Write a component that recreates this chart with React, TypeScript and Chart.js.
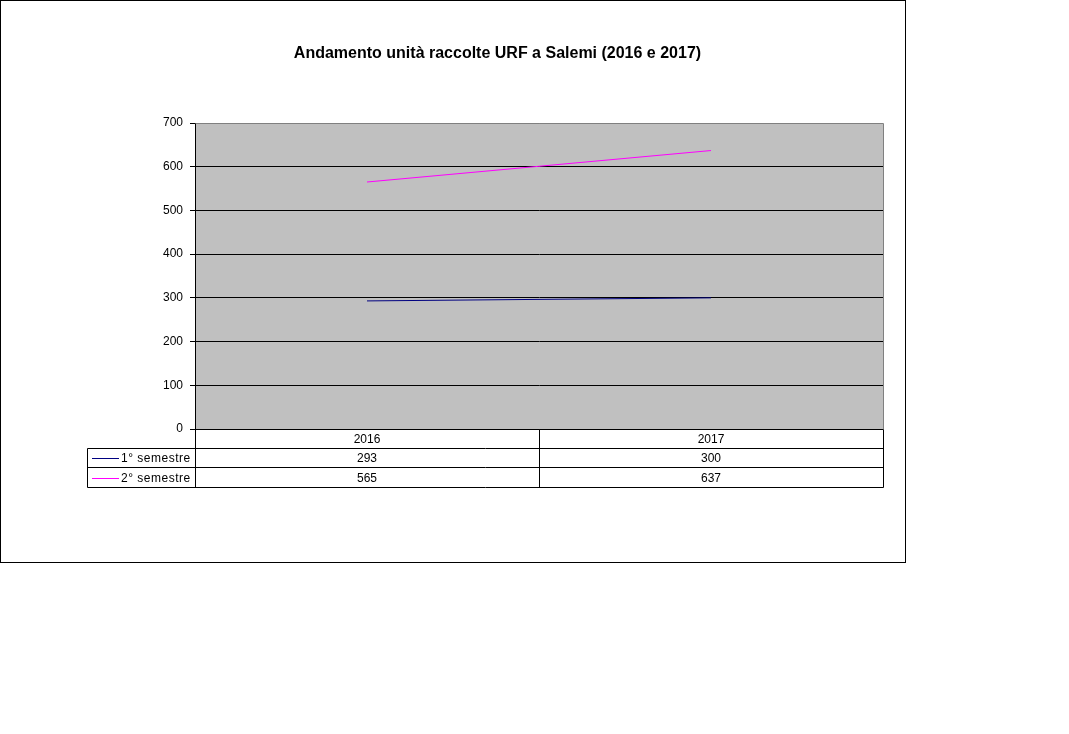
import React, { useEffect, useRef } from "react";
import { Chart, registerables } from "chart.js";

Chart.register(...registerables);

const categories = ["2016", "2017"];
const seriesNames = ["1° semestre", "2° semestre"];
const sem1 = [293, 300];
const sem2 = [565, 637];
const seriesColors = ["#000080", "#FF00FF"];
const titleText = "Andamento unità raccolte URF a Salemi (2016 e 2017)";
const yMin = 0;
const yMax = 700;
const yStep = 100;

const FONT = "'Liberation Sans', Arial, sans-serif";

const framePlugin = {
  id: "frame",
  beforeDraw(chart: any) {
    const { ctx, chartArea } = chart;
    const { left, top, right, bottom } = chartArea;
    ctx.save();
    ctx.fillStyle = "#ffffff";
    ctx.fillRect(0, 0, chart.width, chart.height);
    ctx.fillStyle = "#C0C0C0";
    ctx.fillRect(left, top, right - left, bottom - top);
    ctx.restore();
  },
  afterDraw(chart: any) {
    const { ctx, chartArea } = chart;
    const { left, top, right, bottom } = chartArea;
    ctx.save();
    // outer border
    ctx.strokeStyle = "#000";
    ctx.lineWidth = 1;
    ctx.strokeRect(0.5, 0.5, 905, 562);
    // plot top/right border
    ctx.strokeStyle = "#808080";
    ctx.beginPath();
    ctx.moveTo(Math.round(left) + 0.5, Math.round(top) + 0.5);
    ctx.lineTo(Math.round(right) + 0.5, Math.round(top) + 0.5);
    ctx.lineTo(Math.round(right) + 0.5, Math.round(bottom));
    ctx.stroke();
    // title
    ctx.fillStyle = "#000";
    ctx.font = `bold 16px ${FONT}`;
    ctx.textAlign = "center";
    ctx.textBaseline = "middle";
    ctx.fillText(titleText, 497.5, 54);

    // data table
    const xs = chart.scales.x;
    const rowH = [19, 19, 20];
    const y0 = Math.round(bottom) + 0.5;
    const y1 = y0 + rowH[0];
    const y2 = y1 + rowH[1];
    const y3 = y2 + rowH[2];
    const L = Math.round(left) + 0.5;
    const R = Math.round(right) + 0.5;
    const legL = 87.5;
    const n = categories.length;
    const colW = (right - left) / n;
    ctx.strokeStyle = "#000";
    ctx.beginPath();
    ctx.moveTo(L, y0); ctx.lineTo(R, y0);
    ctx.moveTo(legL, y1); ctx.lineTo(R, y1);
    ctx.moveTo(legL, y2); ctx.lineTo(R, y2);
    ctx.moveTo(legL, y3); ctx.lineTo(R, y3);
    ctx.moveTo(L, y0); ctx.lineTo(L, y3);
    ctx.moveTo(R, y0); ctx.lineTo(R, y3);
    ctx.moveTo(legL, y1); ctx.lineTo(legL, y3);
    for (let i = 1; i < n; i++) {
      const x = Math.round(left + colW * i) + 0.5;
      ctx.moveTo(x, y0); ctx.lineTo(x, y3);
    }
    ctx.stroke();

    ctx.font = `12px ${FONT}`;
    ctx.fillStyle = "#000";
    ctx.textAlign = "center";
    ctx.textBaseline = "middle";
    const rows = [sem1, sem2];
    categories.forEach((c, i) => {
      const cx = xs.getPixelForValue(i);
      ctx.fillText(c, cx, (y0 + y1) / 2 + 1);
      rows.forEach((r, j) => {
        const yc = j === 0 ? (y1 + y2) / 2 + 1 : (y2 + y3) / 2 + 1;
        ctx.fillText(String(r[i]), cx, yc);
      });
    });
    // legend keys
    seriesNames.forEach((name, j) => {
      const yc = j === 0 ? (y1 + y2) / 2 : (y2 + y3) / 2;
      ctx.strokeStyle = seriesColors[j];
      ctx.beginPath();
      ctx.moveTo(92, Math.round(yc) + 0.5);
      ctx.lineTo(119, Math.round(yc) + 0.5);
      ctx.stroke();
      ctx.textAlign = "left";
      (ctx as any).letterSpacing = "0.5px";
      ctx.fillText(name, 121, yc + 1);
      (ctx as any).letterSpacing = "0px";
    });
    ctx.restore();
  },
};

export default function App() {
  const ref = useRef<HTMLCanvasElement | null>(null);
  useEffect(() => {
    if (!ref.current) return;
    const chart = new Chart(ref.current, {
      type: "line",
      data: {
        labels: categories,
        datasets: [
          {
            label: seriesNames[0],
            data: sem1,
            borderColor: seriesColors[0],
            backgroundColor: seriesColors[0],
            borderWidth: 1,
            pointRadius: 0,
            tension: 0,
          },
          {
            label: seriesNames[1],
            data: sem2,
            borderColor: seriesColors[1],
            backgroundColor: seriesColors[1],
            borderWidth: 1,
            pointRadius: 0,
            tension: 0,
          },
        ],
      },
      options: {
        animation: false,
        responsive: false,
        devicePixelRatio: 1,
        layout: { padding: { left: 0, top: 123, right: 186, bottom: 247 } },
        plugins: {
          legend: { display: false },
          title: { display: false },
          tooltip: { enabled: false },
        },
        scales: {
          x: {
            offset: true,
            grid: { display: false, offset: true },
            border: { display: false },
            ticks: { display: false },
            afterFit: (s: any) => {
              s.height = 58;
            },
          },
          y: {
            min: yMin,
            max: yMax,
            ticks: {
              stepSize: yStep,
              color: "#000",
              padding: 7,
              font: { family: FONT, size: 12 },
            },
            grid: {
              color: (c: any) => (c.tick && c.tick.value === yMax ? "#808080" : "#000"),
              tickColor: "#000",
              tickLength: 5,
              lineWidth: 1,
            },
            border: { color: "#000", width: 1 },
            afterFit: (s: any) => {
              s.width = 195;
            },
          },
        },
      },
      plugins: [framePlugin],
    });
    return () => chart.destroy();
  }, []);
  return (
    <div style={{ position: "absolute", left: 0, top: 0, width: 1069, height: 734 }}>
      <canvas ref={ref} width={1069} height={734} style={{ width: 1069, height: 734 }} />
    </div>
  );
}
